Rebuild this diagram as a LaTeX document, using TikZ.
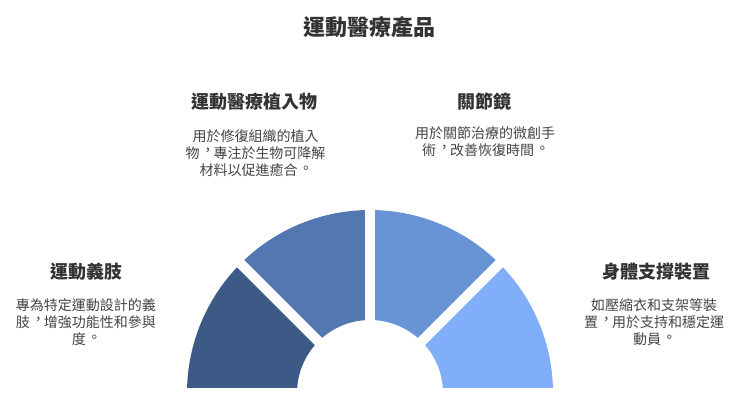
\documentclass[tikz,border=0pt]{standalone}
\usepackage{fontspec}
\newfontfamily\cjk{Noto Sans CJK TC}
\newcommand\midpunct[3]{\makebox[1em][l]{\hspace{#2}\raisebox{#3}{#1}\hspace{-#2}}}
\newcommand\tcomma{\midpunct{，}{0.1em}{0.18em}}
\newcommand\tperiod{\midpunct{。}{0.1em}{0.14em}}
\definecolor{segA}{HTML}{3D5A87}
\definecolor{segB}{HTML}{5378B1}
\definecolor{segC}{HTML}{6894D6}
\definecolor{segD}{HTML}{80AEF9}
\definecolor{txtdark}{HTML}{333333}
\definecolor{txtdesc}{HTML}{444444}
\tikzset{
  titletext/.style={font=\cjk\bfseries\fontsize{22}{26}\selectfont, text=txtdark, inner sep=0pt},
  labeltext/.style={font=\cjk\bfseries\fontsize{18}{22}\selectfont, text=txtdark, inner sep=0pt},
  desctext/.style={font=\cjk\fontsize{14}{17}\selectfont, text=txtdesc, inner sep=0pt, align=center},
  gapline/.style={white, line width=10pt}
}
\begin{document}
\begin{tikzpicture}[x=1pt,y=1pt]
\useasboundingbox[fill=white] (0,0) rectangle (740,400);
\coordinate (c) at (370,7);
\foreach \a/\b/\col in {135/180/segA, 90/135/segB, 45/90/segC, 0/45/segD}{
  \fill[\col] ([shift={(\a:183)}]c) arc[start angle=\a, end angle=\b, radius=183]
    -- ([shift={(\b:73)}]c) arc[start angle=\b, end angle=\a, radius=73] -- cycle;
}
\foreach \a in {0,45,90,135,180}{
  \draw[gapline] (c) -- ([shift={(\a:190)}]c);
}
\node[titletext] (title) at (369,373) {運動醫療產品};
\node[labeltext] (lab1) at (254.5,298) {運動醫療植入物};
\node[desctext] (desc1) at (255.5,247) {用於修復組織的植入\\物\tcomma 專注於生物可降解\\材料以促進癒合\tperiod};
\node[labeltext] (lab2) at (484,298) {關節鏡};
\node[desctext] (desc2) at (485,258.5) {用於關節治療的微創手\\術\tcomma 改善恢復時間\tperiod};
\node[labeltext] (lab3) at (86.5,128) {運動義肢};
\node[desctext] (desc3) at (86,78) {專為特定運動設計的義\\肢\tcomma 增強功能性和參與\\度\tperiod};
\node[labeltext] (lab4) at (656,128) {身體支撐裝置};
\node[desctext] (desc4) at (654,78) {如壓縮衣和支架等裝\\置\tcomma 用於支持和穩定運\\動員\tperiod};
\end{tikzpicture}
\end{document}
